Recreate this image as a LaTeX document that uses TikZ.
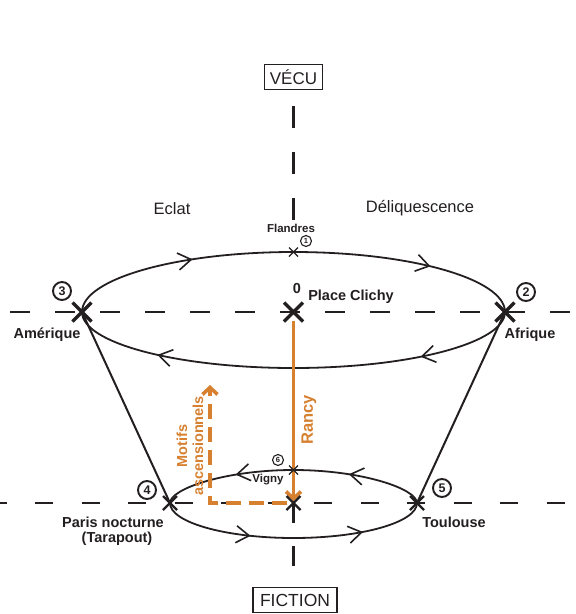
\documentclass[tikz,border=0pt]{standalone}
\usepackage{fontspec}
\setmainfont{Liberation Sans}
\usetikzlibrary{arrows.meta,decorations.markings,shapes.misc,calc}
\definecolor{ocre}{RGB}{214,128,48}
\definecolor{ink}{RGB}{35,31,32}
\begin{document}
\begin{tikzpicture}[x=1pt,y=-1pt,
  lab/.style={font=\bfseries\fontsize{14.5}{16}\selectfont, text=ink, inner sep=0pt},
  smalllab/.style={font=\bfseries\fontsize{11.5}{13}\selectfont, text=ink, inner sep=0pt},
  biglab/.style={font=\fontsize{16.5}{18}\selectfont, text=ink, inner sep=0pt},
  bigx/.style={cross out, draw=ink, line width=3.2pt, minimum size=19pt, inner sep=0pt, outer sep=0pt},
  midx/.style={cross out, draw=ink, line width=2.3pt, minimum size=14pt, inner sep=0pt, outer sep=0pt},
  smallx/.style={cross out, draw=ink, line width=1.4pt, minimum size=9pt, inner sep=0pt, outer sep=0pt},
  numc/.style={circle, draw=ink, line width=1.9pt, minimum size=18pt, inner sep=0pt, font=\bfseries\fontsize{12.5}{13}\selectfont, text=ink},
  snumc/.style={circle, draw=ink, line width=1.1pt, minimum size=11pt, inner sep=0pt, font=\bfseries\fontsize{7.5}{8}\selectfont, text=ink},
  axisline/.style={draw=ink, line width=2.4pt},
  curve/.style={draw=ink, line width=1.8pt},
  arrs/.style 2 args={postaction={decorate, decoration={markings,
      mark=at position #1 with {\arrow[line width=1.6pt]{Straight Barb[length=13pt,width=17pt]}},
      mark=at position #2 with {\arrow[line width=1.6pt]{Straight Barb[length=13pt,width=17pt]}}}}},
  boxlab/.style={draw=ink, line width=1.9pt, text=ink, inner sep=0pt}
]
\useasboundingbox (0,0) rectangle (576,614);

% axes
\draw[axisline, dash pattern=on 20pt off 25pt] (10,312) -- (576,312);
\draw[axisline, dash pattern=on 18pt off 28.5pt, dash phase=11.5pt] (0,503) -- (576,503);
\draw[axisline, dash pattern=on 22pt off 24pt] (293.5,106) -- (293.5,220);
\draw[axisline] (293.5,503) -- (293.5,523);
\draw[axisline] (293.5,546) -- (293.5,566);

\node[boxlab, minimum width=58pt, minimum height=25pt, font=\fontsize{17}{18}\selectfont] (vecu) at (293.5,77) {VÉCU};
\node[boxlab, minimum width=84pt, minimum height=25pt, font=\fontsize{17.5}{19}\selectfont] (fiction) at (295,600) {FICTION};

% coordinates of the stations
\coordinate (p3) at (82,312);
\coordinate (p2) at (505,312);
\coordinate (p0) at (293.5,312);
\coordinate (p1) at (293.5,252);
\coordinate (p4) at (170,503);
\coordinate (p5) at (417,503);
\coordinate (pm) at (293.5,503);
\coordinate (p6) at (293.5,470);

% upper loop
\path[curve, arrs={0.28}{0.8}] (p3) .. controls (82,278.9) and (176.7,252) .. (p1)
   .. controls (410.3,252) and (505,278.9) .. (p2);
\path[curve, arrs={0.22}{0.8}] (p2) .. controls (505,342.9) and (410.3,368) .. (293.5,368)
   .. controls (176.7,368) and (82,342.9) .. (p3);

% side lines
\draw[curve, line width=2pt] (p3) -- (p4);
\draw[curve, line width=2pt] (p2) -- (p5);

% lower loop
\path[curve, arrs={0.29}{0.72}] (p5) .. controls (417,488.8) and (361.7,470) .. (p6)
   .. controls (225.3,470) and (170,488.8) .. (p4);
\path[curve, arrs={0.34}{0.76}] (p4) .. controls (170,522.3) and (225.3,538) .. (293.5,538)
   .. controls (361.7,538) and (417,522.3) .. (p5);

% orange arrows
\coordinate (rtip) at (293.5,501);
\coordinate (mcorner) at (210,503);
\coordinate (mtop) at (210,385);
\draw[ocre, line width=3.6pt, shorten <=9pt, -{Straight Barb[length=7pt,width=15pt]}] (p0) -- (rtip);
\draw[ocre, line width=3.6pt, dash pattern=on 15pt off 8pt, -{Straight Barb[length=7pt,width=15pt]}]
   ($(pm)+(-7,0)$) -- (mcorner) -- (mtop);
\node[rotate=90, font=\bfseries\fontsize{16.5}{18}\selectfont, text=ocre, inner sep=0pt] (rancy) at (309,420) {Rancy};
\node[rotate=90, font=\bfseries\fontsize{14.5}{16}\selectfont, text=ocre, inner sep=0pt, align=center] (motifs) at (190,446) {Motifs\\ascensionnels};

% crosses
\node[bigx] (n3) at (p3) {};
\node[bigx] (n2) at (p2) {};
\node[bigx] (n0) at (p0) {};
\node[midx] (n4) at (p4) {};
\node[midx] (n5) at (p5) {};
\node[midx] (nm) at (pm) {};
\node[smallx] (n1) at (p1) {};
\node[smallx] (n6) at (p6) {};

% numbered circles
\node[numc] (c3) at (62,291) {3};
\node[numc] (c2) at (526,292) {2};
\node[numc] (c4) at (147,490) {4};
\node[numc] (c5) at (442,488) {5};
\node[snumc] (c1) at (306,241) {1};
\node[snumc] (c6) at (278,460) {6};

% labels
\node[lab] (l3) at (47,335) {Amérique};
\node[lab] (l2) at (530,335) {Afrique};
\node[lab] (l0) at (297,289) {0};
\node[lab] (lpc) at (351,297) {Place Clichy};
\node[lab] (l4) at (113,522) {Paris nocturne};
\node[lab] (l4b) at (117,539) {(Tarapout)};
\node[lab] (l5) at (454,522) {Toulouse};
\node[smalllab] (l1) at (291,228) {Flandres};
\node[smalllab] (l6) at (268,480) {Vigny};
\node[biglab] (eclat) at (172,209) {Eclat};
\node[biglab] (deliq) at (420,208) {Déliquescence};
\end{tikzpicture}
\end{document}
